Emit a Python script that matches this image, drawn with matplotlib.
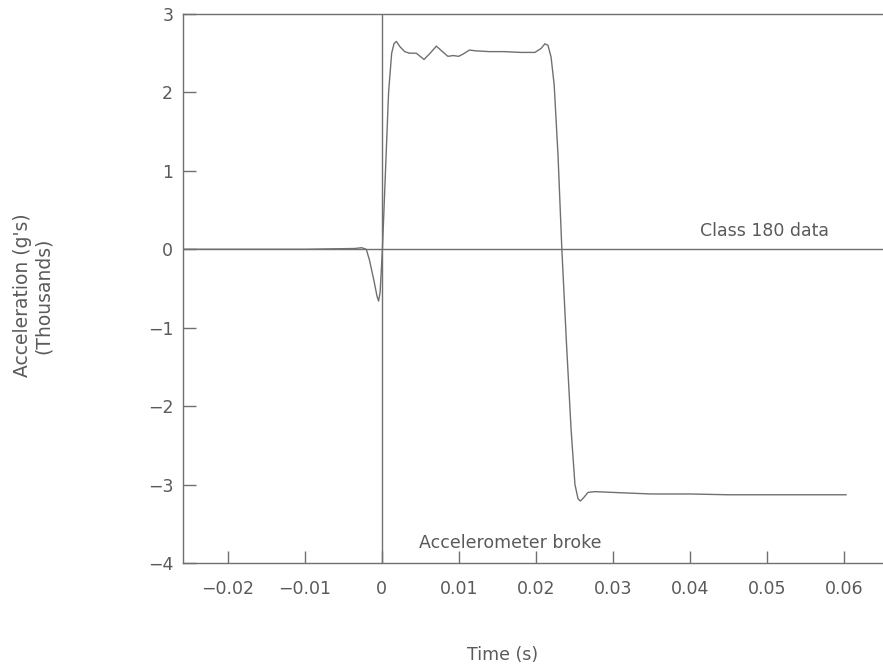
import numpy as np
import matplotlib.pyplot as plt

plt.rcParams['font.family'] = 'DejaVu Sans'
plt.rcParams['font.size'] = 12.5

time_s = [-0.0258, -0.010, -0.0035, -0.0026, -0.0020, -0.0016, -0.0010, -0.0006,
          -0.0004, -0.0002, 0.0001, 0.0005, 0.0009, 0.0013, 0.0016, 0.0019,
          0.0024, 0.0030, 0.0036, 0.0045, 0.0055, 0.0063, 0.0071, 0.0079,
          0.0086, 0.0093, 0.0100, 0.0106, 0.0114, 0.0122, 0.0140, 0.0160,
          0.0180, 0.0199, 0.0207, 0.0212, 0.0216, 0.0220, 0.0224, 0.0229,
          0.0234, 0.0240, 0.0246, 0.0251, 0.0255, 0.0258, 0.0262, 0.0268,
          0.0277, 0.0300, 0.0350, 0.0400, 0.0450, 0.0500, 0.0550, 0.0603]
accel_k = [0.0, 0.0, 0.01, 0.02, 0.0, -0.13, -0.40, -0.60,
           -0.66, -0.55, 0.0, 1.0, 2.0, 2.50, 2.62, 2.65,
           2.58, 2.52, 2.50, 2.50, 2.42, 2.50, 2.59, 2.52,
           2.46, 2.47, 2.46, 2.49, 2.54, 2.53, 2.52, 2.52,
           2.51, 2.51, 2.56, 2.62, 2.60, 2.45, 2.10, 1.20,
           0.0, -1.20, -2.30, -3.00, -3.18, -3.21, -3.17, -3.10,
           -3.09, -3.10, -3.12, -3.12, -3.13, -3.13, -3.13, -3.13]

x_ticks = [-0.02, -0.01, 0, 0.01, 0.02, 0.03, 0.04, 0.05, 0.06]
x_labels = ['\u22120.02', '\u22120.01', '0', '0.01', '0.02', '0.03', '0.04', '0.05', '0.06']
y_ticks = [-4, -3, -2, -1, 0, 1, 2, 3]
y_labels = ['\u22124', '\u22123', '\u22122', '\u22121', '0', '1', '2', '3']

ink = '#707070'
txt = '#5a5a5a'

fig = plt.figure(figsize=(8.83, 6.72), dpi=100)
ax = fig.add_axes([0.2072, 0.1622, 0.7928, 0.817])

ax.plot(time_s, accel_k, color=ink, lw=1.0)
ax.axhline(0, color=ink, lw=1.0)
ax.axvline(0, color=ink, lw=1.0)

ax.set_xlim(-0.0258, 0.0651)
ax.set_ylim(-4, 3)
ax.set_xticks(x_ticks, x_labels)
ax.set_yticks(y_ticks, y_labels)
ax.tick_params(direction='in', length=9, width=1.0, color=ink, labelcolor=txt, pad=7)
ax.tick_params(axis='x', pad=12)

for side in ['left', 'bottom', 'top']:
    ax.spines[side].set_color(ink)
    ax.spines[side].set_linewidth(1.0)
ax.spines['right'].set_visible(False)

ax.text(0.0497, 0.23, 'Class 180 data', color=txt, ha='center', va='center')
ax.text(0.0049, -3.75, 'Accelerometer broke', color=txt, ha='left', va='center')

fig.text(0.025, 0.56, "Acceleration (g's)", rotation=90, color=txt,
         ha='center', va='center', fontsize=13.5)
fig.text(0.049, 0.56, '(Thousands)', rotation=90, color=txt,
         ha='center', va='center', fontsize=13.5)
fig.text(0.569, 0.025, 'Time (s)', color=txt, ha='center', va='center')

fig.savefig('out.png', dpi=100)
